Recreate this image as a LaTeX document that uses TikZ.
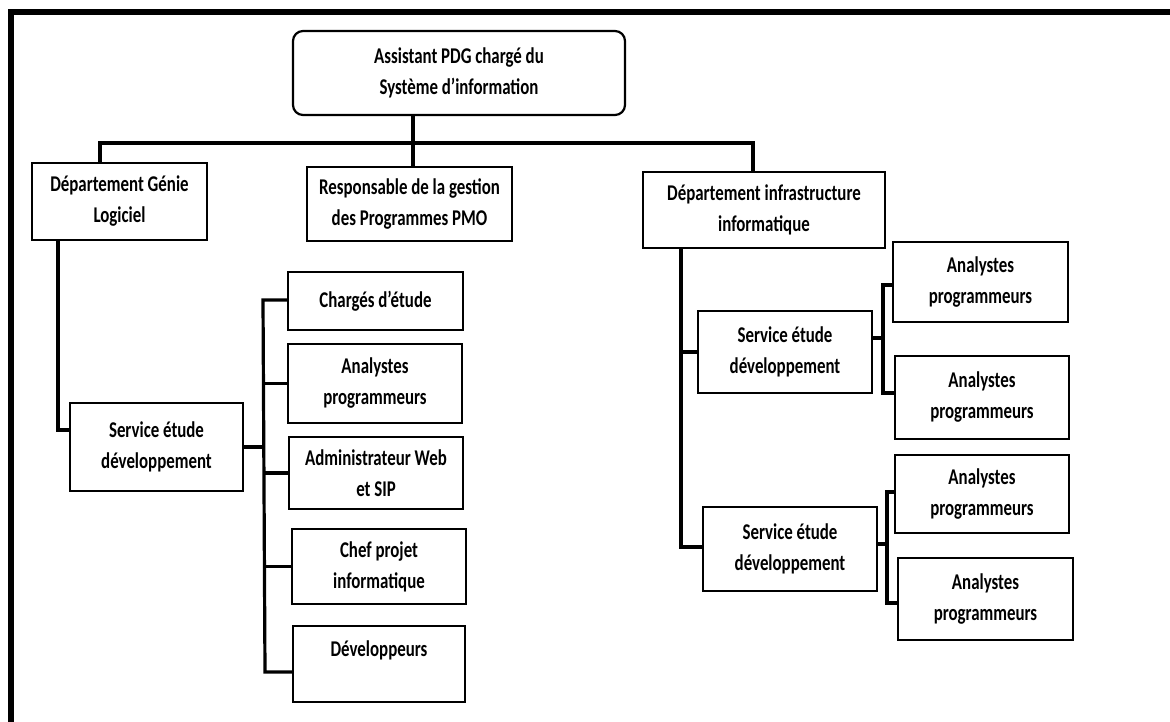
\documentclass[tikz,border=0pt]{standalone}
\usepackage{fontspec}
\setmainfont{Carlito}[FakeStretch=0.75]
\begin{document}
\begin{tikzpicture}[x=1pt,y=-1pt,
  box/.style={draw, line width=2.2pt, inner sep=0pt, align=center,
    font=\fontsize{22.5}{31}\selectfont\bfseries},
  link/.style={line width=3.2pt, line join=miter}]
\useasboundingbox (0,0) rectangle (1170,722);

% outer frame (top and left sides)
\draw[line width=6pt, line join=miter] (11,722) -- (11,12) -- (1170,12);

% head
\node[box, rounded corners=10pt, minimum width=332pt, minimum height=84pt] (top) at (459,73)
  {Assistant PDG chargé du\\Système d’information};

% departments
\node[box, minimum width=175pt, minimum height=77pt] (dgl) at (119.5,201.5)
  {Département Génie\\Logiciel};
\node[box, minimum width=205pt, minimum height=74pt] (resp) at (409.5,204)
  {Responsable de la gestion\\des Programmes PMO};
\node[box, minimum width=242pt, minimum height=76pt] (dinf) at (764,210)
  {Département infrastructure\\informatique};

% software engineering branch
\node[box, minimum width=173pt, minimum height=88pt] (svcL) at (156.5,447)
  {Service étude\\développement};
\node[box, minimum width=175pt, minimum height=58pt] (ch) at (375.5,301)
  {Chargés d’étude};
\node[box, minimum width=174pt, minimum height=79pt] (anL) at (375,383.5)
  {Analystes\\programmeurs};
\node[box, minimum width=174pt, minimum height=72pt] (adm) at (376,473)
  {Administrateur Web\\et SIP};
\node[box, minimum width=174pt, minimum height=75pt] (chef) at (379,566.5)
  {Chef projet\\informatique};
\node[box, minimum width=172pt, minimum height=76pt] (dev) at (379,664)
  {Développeurs\\\mbox{}};

% infrastructure branch
\node[box, minimum width=174pt, minimum height=82pt] (svc1) at (785,352)
  {Service étude\\développement};
\node[box, minimum width=174pt, minimum height=84pt] (svc2) at (790,549)
  {Service étude\\développement};
\node[box, minimum width=175pt, minimum height=80pt] (a1) at (980.5,282)
  {Analystes\\programmeurs};
\node[box, minimum width=174pt, minimum height=83pt] (a2) at (982,397.5)
  {Analystes\\programmeurs};
\node[box, minimum width=174pt, minimum height=78pt] (a3) at (982,494)
  {Analystes\\programmeurs};
\node[box, minimum width=175pt, minimum height=82pt] (a4) at (985.5,599)
  {Analystes\\programmeurs};

% bend points of the connectors
\coordinate (bus) at (413,143);
\coordinate (b1) at (100,143);
\coordinate (b2) at (753,143);
\coordinate (l1) at (58,430);
\coordinate (lbus) at (263,300);
\coordinate (dv) at (265,672);
\coordinate (r1) at (681,547);
\coordinate (s1) at (883,338);
\coordinate (k1) at (883,285);
\coordinate (k2) at (883,393);
\coordinate (s2) at (887,544);
\coordinate (k3) at (887,492);
\coordinate (k4) at (887,603);

% head to departments
\draw[link] (bus |- top.south) -- (bus |- resp.north);
\draw[link] (b1 |- dgl.north) -- (b1) -- (b2) -- (b2 |- dinf.north);

% software engineering links
\draw[link] (l1 |- dgl.south) -- (l1) -- (l1 -| svcL.west);
\draw[link] (svcL.east) -- (svcL.east -| lbus);
\draw[link] (lbus -| ch.west) -- (lbus) -- (dv) -- (dv -| dev.west);
\draw[link] (lbus |- anL.west) -- (anL.west);
\draw[link] (lbus |- adm.west) -- (adm.west);
\draw[link] (lbus |- chef.west) -- (chef.west);

% infrastructure links
\draw[link] (r1 |- dinf.south) -- (r1) -- (r1 -| svc2.west);
\draw[link] (r1 |- svc1.west) -- (svc1.west);
\draw[link] (s1 -| svc1.east) -- (s1);
\draw[link] (k1 -| a1.west) -- (k1) -- (k2) -- (k2 -| a2.west);
\draw[link] (s2 -| svc2.east) -- (s2);
\draw[link] (k3 -| a3.west) -- (k3) -- (k4) -- (k4 -| a4.west);
\end{tikzpicture}
\end{document}
